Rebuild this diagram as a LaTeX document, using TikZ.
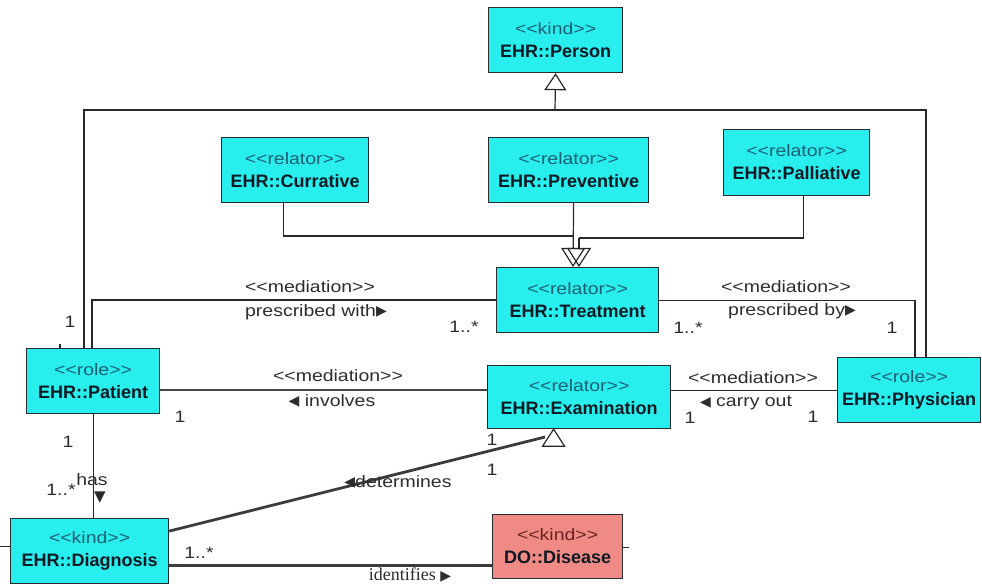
\documentclass[tikz,border=0pt]{standalone}
\usepackage{fontspec}
\setmainfont{Liberation Sans}
\newfontfamily\lblfont{Liberation Sans}[FakeStretch=1.18]
\newfontfamily\namefont{Liberation Sans}
\newfontfamily\serfont{Liberation Serif}
\newfontfamily\symfont{DejaVu Sans}
\usetikzlibrary{arrows.meta,calc}

\definecolor{boxcyan}{RGB}{40,238,238}
\definecolor{boxsalmon}{RGB}{240,138,133}
\definecolor{boxline}{RGB}{40,45,50}
\definecolor{stereo}{RGB}{30,95,115}
\definecolor{stereored}{RGB}{105,35,35}
\definecolor{nametext}{RGB}{15,25,35}
\definecolor{lbltext}{RGB}{45,45,45}
\definecolor{lnthin}{RGB}{40,40,40}
\definecolor{lnmid}{RGB}{70,70,70}

% stereotype text: the kerns keep << and >> from turning into guillemets
\newcommand\stq[1]{<\kern0pt<#1>\kern0pt>}
\newcommand\clstext[3][stereo]{{\lblfont\fontsize{16.5}{18}\selectfont\color{#1}\stq{#2}}\\[2pt]{\namefont\bfseries\fontsize{18}{20}\selectfont\color{nametext}#3}}
\newcommand\rtri{{\symfont\fontsize{14}{14}\selectfont\raisebox{0.5pt}{▶}}}
\newcommand\ltri{{\symfont\fontsize{14}{14}\selectfont\raisebox{0.5pt}{◀}}}

\tikzset{
  cls/.style={draw=boxline, line width=1.2pt, fill=boxcyan, rectangle,
    align=center, inner sep=0pt, anchor=north west,
    font=\fontsize{17}{21}\selectfont},
  lbl/.style={inner sep=0pt, text=lbltext,
    font=\lblfont\fontsize{16.5}{18}\selectfont},
  thinln/.style={draw=lnthin, line width=1.2pt},
  medthick/.style={draw=lnthin, line width=2pt},
  medmid/.style={draw=lnmid, line width=1.8pt},
  diagln/.style={draw=lnmid!85!black, line width=2.8pt},
  gen/.style={-{Triangle[open,length=19pt,width=24pt]}}
}

\begin{document}
\begin{tikzpicture}[x=1pt,y=-1pt]
\useasboundingbox[fill=white] (0,0) rectangle (982,585);

% classes
\node[cls, minimum width=134pt, minimum height=65pt] (person) at (488,7) {\clstext{kind}{EHR::Person}};
\node[cls, minimum width=147pt, minimum height=65pt] (curative) at (221,137) {\clstext{relator}{EHR::Currative}};
\node[cls, minimum width=160pt, minimum height=65pt] (preventive) at (488,137) {\clstext{relator}{EHR::Preventive}};
\node[cls, minimum width=146pt, minimum height=66pt] (palliative) at (723,129) {\clstext{relator}{EHR::Palliative}};
\node[cls, minimum width=162pt, minimum height=65pt] (treatment) at (496,267) {\clstext{relator}{EHR::Treatment}};
\node[cls, minimum width=133pt, minimum height=65pt] (patient) at (26,348) {\clstext{role}{EHR::Patient}};
\node[cls, minimum width=183pt, minimum height=63pt] (examination) at (487,365) {\clstext{relator}{EHR::Examination}};
\node[cls, minimum width=143pt, minimum height=65pt] (physician) at (837,357) {\clstext{role}{EHR::Physician}};
\node[cls, minimum width=158pt, minimum height=65pt] (diagnosis) at (10,518) {\clstext{kind}{EHR::Diagnosis}};
\node[cls, fill=boxsalmon, minimum width=130pt, minimum height=64pt] (disease) at (492,514) {\clstext[stereored]{kind}{DO::Disease}};

% generalization of patient and physician into person
\coordinate (bar) at (555,110);
\draw[thinln, -{Triangle[open,length=17pt,width=22pt]}] (bar) -- (person.south);
\draw[thinln] ([xshift=58pt]patient.north west) |- (bar) -| ([xshift=89pt]physician.north west);

% generalization set of the treatment kinds
\coordinate (gsL) at (573,236);
\coordinate (gsR) at (579,238);
\draw[thinln] ([xshift=-11.5pt]curative.south) |- (gsL);
\draw[thinln] ([xshift=7pt]palliative.south) |- (gsR);
\draw[thinln, gen] ([xshift=5pt]preventive.south) -- (gsL |- treatment.north);
\draw[thinln, gen] (gsR) -- (gsR |- treatment.north);

% mediations
\draw[medthick] ([xshift=66pt]patient.north west) |- (treatment.west);
\draw[thinln] (treatment.east) -| ([xshift=78pt]physician.north west);
\coordinate (pe) at ([yshift=-8.5pt]patient.east);
\draw[medmid] (pe) -- (pe -| examination.west);
\draw[thinln] (examination.east |- physician.west) -- (physician.west);

% diagnosis associations
\draw[thinln] (patient.south) -- (patient.south |- diagnosis.north);
\coordinate (dx) at ([yshift=20pt]diagnosis.east);
\coordinate (detEnd) at (545,437);
\draw[diagln] (dx) -- (detEnd);
\draw[thinln, fill=white] ([xshift=-25.5pt]examination.south) -- ++(-11,17) -- ++(22,0) -- cycle;
\coordinate (dd) at ([yshift=-14.5pt]diagnosis.east);
\draw[diagln] (dd) -- (dd -| disease.west);

% short stubs
\draw[thinln] ([yshift=4.5pt]diagnosis.west) -- ++(-10,0);
\draw[thinln] ([yshift=-1pt]disease.east) -- ++(6,0);
\draw[thinln] ([xshift=34pt]patient.north west) -- ++(0,-4);

% labels: patient - treatment
\node[lbl] (m1) at (70,322) {1};
\node[lbl] (pwst) at (310,287) {\stq{mediation}};
\node[lbl] (pw) at (316,312) {prescribed with\rtri};
\node[lbl] (pwm) at (464,327) {1..*};

% labels: treatment - physician
\node[lbl] (pbst) at (786,287) {\stq{mediation}};
\node[lbl] (pb) at (792,311) {prescribed by\rtri};
\node[lbl] (pbm1) at (688,328) {1..*};
\node[lbl] (pbm2) at (892,328) {1};

% labels: patient - examination
\node[lbl] (invst) at (338,376) {\stq{mediation}};
\node[lbl] (inv) at (332,401) {\ltri\ involves};
\node[lbl] (invm) at (180,417) {1};

% labels: examination - physician
\node[lbl] (cost) at (753,378) {\stq{mediation}};
\node[lbl] (co) at (746,403) {\ltri\ carry out};
\node[lbl] (com1) at (690,418) {1};
\node[lbl] (com2) at (813,417) {1};

% labels: patient - diagnosis
\node[lbl] (hasm1) at (68,442) {1};
\node[lbl] (hasm2) at (61,490) {1..*};
\node[lbl] (has) at (92,480) {has};
\node[inner sep=0pt, text=lnthin, font=\symfont\fontsize{15}{15}\selectfont] (hasdir) at (100,498) {▼};

% labels: diagnosis - examination
\node[lbl] (det) at (398,482) {\ltri determines};
\node[lbl] (detm1) at (492,440) {1};
\node[lbl] (detm2) at (492,470) {1};

% labels: diagnosis - disease
\node[lbl] (idm) at (199,553) {1..*};
\node[inner sep=0pt, text=lbltext, font=\serfont\fontsize{18}{20}\selectfont] (id) at (410,575) {identifies \rtri};
\end{tikzpicture}
\end{document}
